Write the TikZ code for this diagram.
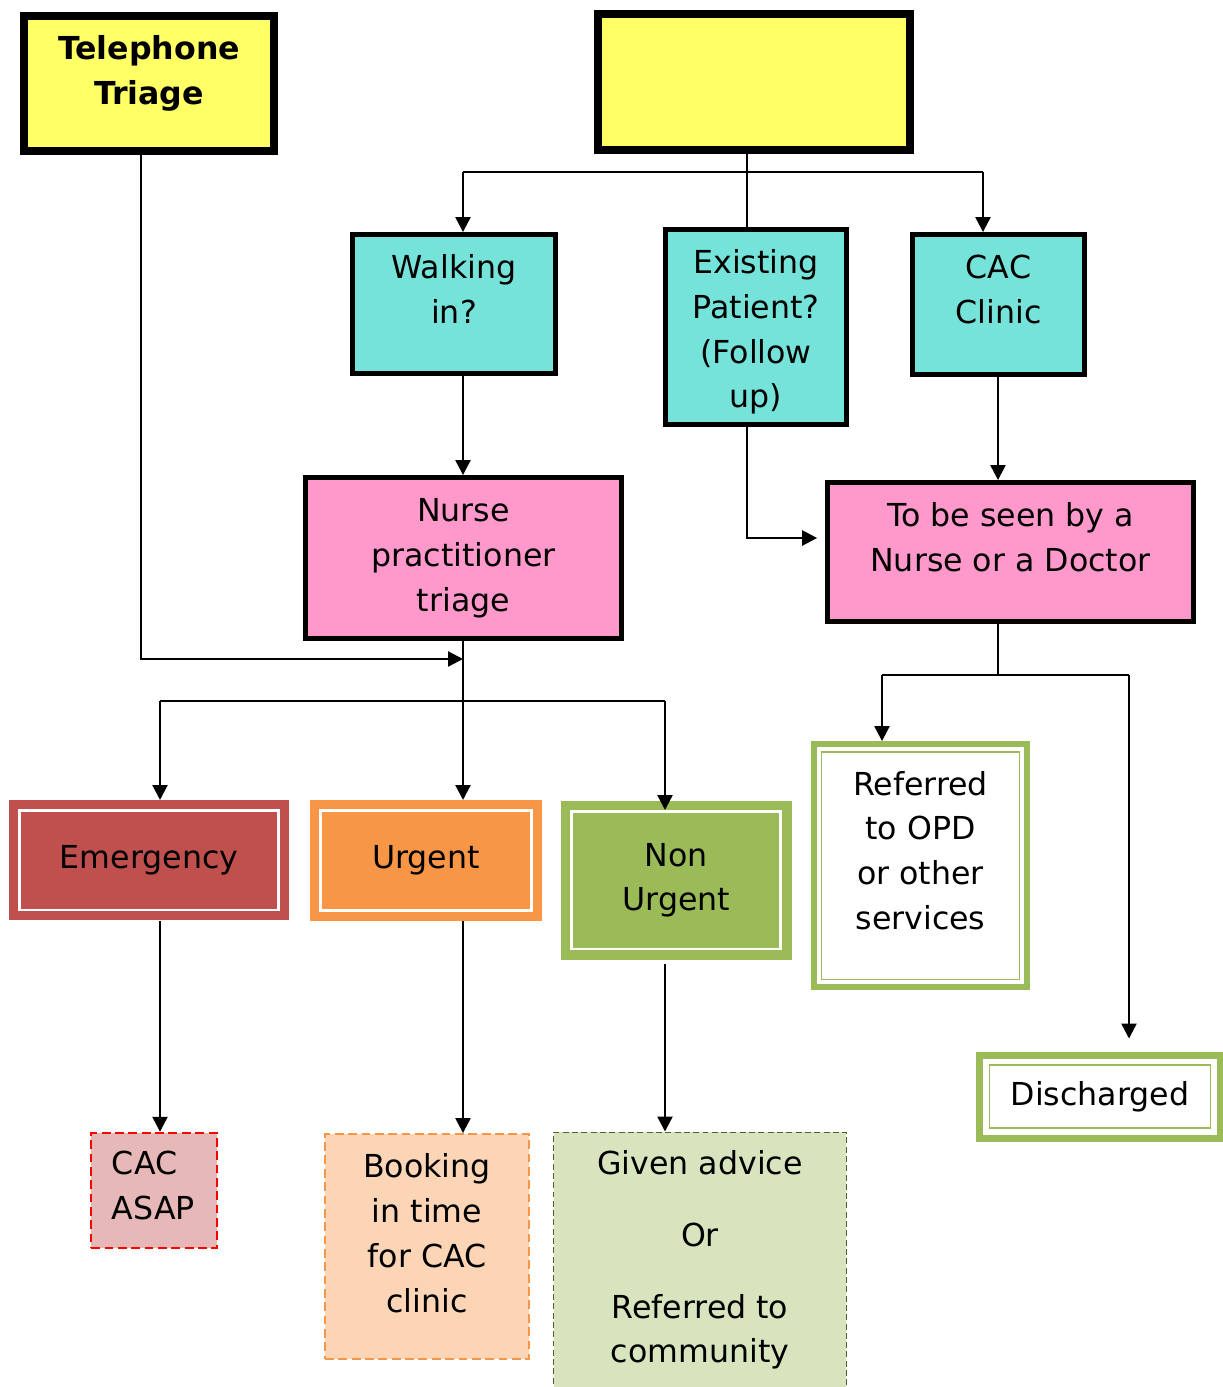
\documentclass[tikz,border=0pt]{standalone}
\usepackage{fontspec}
\setmainfont{DejaVu Sans}
\usetikzlibrary{arrows.meta}
\definecolor{triyellow}{HTML}{FFFF66}
\definecolor{asktea}{HTML}{75E3D9}
\definecolor{seenpink}{HTML}{FF99CC}
\definecolor{emred}{HTML}{C0504D}
\definecolor{urgorange}{HTML}{F79646}
\definecolor{nugreen}{HTML}{9BBB59}
\definecolor{asapfill}{HTML}{E6B9B8}
\definecolor{bookfill}{HTML}{FBD5B5}
\definecolor{givenfill}{HTML}{D7E4BD}
\definecolor{givenline}{HTML}{4F6228}
\begin{document}
\begin{tikzpicture}[x=0.02cm,y=-0.02cm,line width=1.3pt,
  font=\fontsize{18}{25.5}\selectfont,
  txt/.style={align=center,inner sep=0pt},
  box/.style={draw,inner sep=0pt,align=center},
  headbox/.style={box,fill=triyellow,line width=4.5pt},
  askbox/.style={box,fill=asktea,line width=2.8pt},
  seenbox/.style={box,fill=seenpink,line width=2.8pt},
  levelbox/.style={box,draw=white,line width=1.7pt,fill=#1,outer sep=6pt,
    preaction={draw=#1,line width=11.9pt}},
  outbox/.style 2 args={box,fill=white,draw=nugreen,line width=1.1pt,outer sep=#1/2,
    preaction={draw=nugreen,line width=#1},preaction={draw=white,line width=#2}},
  dashbox/.style={box,line width=1.1pt,dash pattern=on 5pt off 2.6pt},
  arr/.style={-{Triangle[width=8.5pt,length=8.5pt]}}]
\useasboundingbox (0,0) rectangle (1223,1387);
\node[headbox,minimum width=5cm,minimum height=2.7cm,
  label={[txt,yshift=0.2cm,font=\fontsize{18}{25.5}\selectfont\bfseries]center:Telephone\\Triage}] (tel) at (149,83.5) {};
\node[headbox,minimum width=6.24cm,minimum height=2.72cm] (top) at (754,82) {};
\node[askbox,minimum width=4.06cm,minimum height=2.78cm,
  label={[txt,yshift=0.3cm]center:Walking\\in?}] (walk) at (454,304) {};
\node[askbox,minimum width=3.62cm,minimum height=3.9cm,
  label={[txt,yshift=-0.1cm]center:Existing\\Patient?\\(Follow\\up)}] (exist) at (756,327) {};
\node[askbox,minimum width=3.44cm,minimum height=2.8cm,
  label={[txt,yshift=0.3cm]center:CAC\\Clinic}] (cac) at (998.5,304.5) {};
\node[seenbox,minimum width=6.32cm,minimum height=3.22cm] (nurse) at (463.5,558) {Nurse\\practitioner\\triage};
\node[seenbox,minimum width=7.32cm,minimum height=2.78cm,
  label={[txt,yshift=0.3cm]center:To be seen by a\\Nurse or a Doctor}] (seen) at (1010.5,552) {};
\node[levelbox=emred,minimum width=5.18cm,minimum height=1.99cm] (emerg) at (149,860.25) {Emergency};
\node[levelbox=urgorange,minimum width=4.22cm,minimum height=2cm] (urgent) at (426,860.5) {Urgent};
\node[levelbox=nugreen,outer sep=0.85pt,preaction={draw=nugreen,line width=12.2pt},
  minimum width=4.19cm,minimum height=2.75cm] (nonurg) at (676.25,880.25) {Non\\Urgent};
\node[outbox={11.9pt}{4.8pt},minimum width=3.96cm,minimum height=4.56cm,
  label={[txt,yshift=0.3cm]center:Referred\\to OPD\\or other\\services}] (refer) at (920.5,865.5) {};
\node[outbox={15.3pt}{7pt},minimum width=4.42cm,minimum height=1.27cm] (disch) at (1100,1096.7) {Discharged};
\node[dashbox,draw=red,fill=asapfill,minimum width=2.51cm,minimum height=2.31cm,
  label={[txt,align=left,anchor=west,xshift=0.41cm,yshift=0.1cm]west:CAC\\ASAP}] (asap) at (154,1190.5) {};
\node[dashbox,draw=urgorange,fill=bookfill,minimum width=4.08cm,minimum height=4.5cm,
  label={[txt,yshift=0.27cm]center:Booking\\in time\\for CAC\\clinic}] (booking) at (427,1246.5) {};
\node[dashbox,draw=givenline,fill=givenfill,line width=0.85pt,dash pattern=on 3.4pt off 1.9pt,
  minimum width=5.86cm,minimum height=5.35cm,
  label={[txt,yshift=0.12cm]center:Given advice\\[15.3pt]Or\\[15.3pt]Referred to\\community}] (given) at (700,1266) {};
\coordinate (wl) at (463,172);
\coordinate (cr) at (983,172);
\coordinate (ex) at (747,172);
\draw (ex |- top.south) -- (ex |- exist.north);
\draw (wl) -- (cr);
\draw[arr] (wl) -- (wl |- walk.north);
\draw[arr] (cr) -- (cr |- cac.north);
\draw[arr] (wl |- walk.south) -- (wl |- nurse.north);
\coordinate (sj) at (998,675);
\draw[arr] (sj |- cac.south) -- (sj |- seen.north);
\coordinate (eb) at (747,538);
\draw[arr,shorten >=4.5pt] (ex |- exist.south) -- (eb) -- (eb -| seen.west);
\coordinate (tb) at (141,659);
\draw[arr] (tb |- tel.south) -- (tb) -- (tb -| wl);
\coordinate (el) at (160,701);
\coordinate (nr) at (665,701);
\draw (wl |- nurse.south) -- (wl |- el);
\draw (el) -- (nr);
\draw[arr] (el) -- (el |- emerg.north);
\draw[arr] (wl |- el) -- (wl |- urgent.north);
\draw[arr] (nr) -- (nr |- nonurg.north);
\draw[arr] (el |- emerg.south) -- (el |- asap.north);
\draw[arr] (wl |- urgent.south) -- (wl |- booking.north);
\draw[arr,shorten <=0.28cm] (nr |- nonurg.south) -- (nr |- given.north);
\coordinate (rl) at (882,675);
\coordinate (dr) at (1129,675);
\draw (sj |- seen.south) -- (sj);
\draw (rl) -- (dr);
\draw[arr] (rl) -- (rl |- refer.north);
\draw[arr,shorten >=0.26cm] (dr) -- (dr |- disch.north);
\end{tikzpicture}
\end{document}
